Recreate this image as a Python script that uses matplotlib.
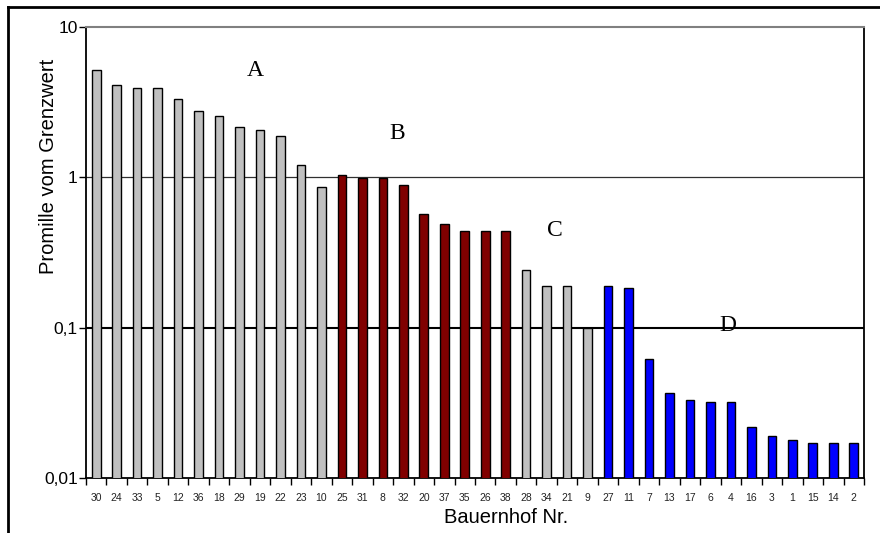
import matplotlib
matplotlib.use("Agg")
import matplotlib.pyplot as plt
from matplotlib.lines import Line2D

# Bauernhof numbers in plotted order, values in promille of the limit
hoefe = ["30", "24", "33", "5", "12", "36", "18", "29", "19", "22", "23", "10",
         "25", "31", "8", "32", "20", "37", "35", "26", "38",
         "28", "34", "21", "9",
         "27", "11", "7", "13", "17", "6", "4", "16", "3", "1", "15", "14", "2"]
werte = [5.2, 4.1, 3.95, 3.95, 3.3, 2.75, 2.55, 2.15, 2.08, 1.88, 1.2, 0.86,
         1.03, 0.99, 0.99, 0.885, 0.57, 0.49, 0.44, 0.437, 0.437,
         0.243, 0.188, 0.188, 0.1,
         0.19, 0.185, 0.062, 0.0365, 0.033, 0.032, 0.032, 0.022, 0.019, 0.0179,
         0.0172, 0.0172, 0.0172]
gruppe = ["grau"] * 12 + ["rot"] * 9 + ["grau"] * 4 + ["blau"] * 13

farben = {"grau": "#c0c0c0", "rot": "#800000", "blau": "#0000ff"}

gruppen_label = ["A", "B", "C", "D"]
label_pos = [(7.75, 5.1), (14.7, 1.95), (22.4, 0.44), (30.85, 0.104)]

fig = plt.figure(figsize=(8.8, 5.33), dpi=100)
ax = fig.add_axes([0.0977, 0.1032, 0.8841, 0.8461])

x = list(range(len(hoefe)))
ax.bar(x, werte, width=0.42, color=[farben[g] for g in gruppe],
       edgecolor="black", linewidth=1.0, zorder=3)

ax.set_yscale("log")
ax.set_ylim(0.01, 10)
ax.set_xlim(-0.5, len(hoefe) - 0.5)

ax.axhline(1, color="#303030", linewidth=0.9, zorder=1)
ax.axhline(0.1, color="black", linewidth=1.5, zorder=1)

ax.set_yticks([0.01, 0.1, 1, 10])
ax.set_yticklabels(["0,01", "0,1", "1", "10"], fontfamily="Liberation Sans",
                   fontsize=12.5)
ax.set_yticks([], minor=True)
ax.tick_params(axis="y", direction="out", length=5, width=1, pad=1)

ax.set_xticks(x)
ax.set_xticklabels(hoefe, fontfamily="Liberation Sans", fontsize=7.5,
                   color="#222222")
ax.tick_params(axis="x", length=0, pad=11)
ax.set_xticks([i - 0.5 for i in range(len(hoefe) + 1)], minor=True)
ax.tick_params(axis="x", which="minor", direction="out", length=5, width=1)

for s in ["left", "bottom", "right"]:
    ax.spines[s].set_color("black")
    ax.spines[s].set_linewidth(1.3)
ax.spines["top"].set_color("#808080")
ax.spines["top"].set_linewidth(1.5)

ax.text(-0.048, 0.69, "Promille vom Grenzwert", transform=ax.transAxes,
        rotation=90, ha="center", va="center", fontfamily="Liberation Sans",
        fontsize=14.5)
ax.text(0.54, -0.087, "Bauernhof Nr.", transform=ax.transAxes,
        ha="center", va="center", fontfamily="Liberation Sans", fontsize=14.5)

for t, (px, py) in zip(gruppen_label, label_pos):
    ax.text(px, py, t, fontfamily="Liberation Serif", fontsize=17,
            ha="center", va="center", zorder=4)

# outer frame (top and left)
fig.add_artist(Line2D([0.009, 1.0], [0.987, 0.987], color="black", linewidth=2))
fig.add_artist(Line2D([0.009, 0.009], [0.0, 0.987], color="black", linewidth=2))

fig.savefig("out.png", dpi=100)
